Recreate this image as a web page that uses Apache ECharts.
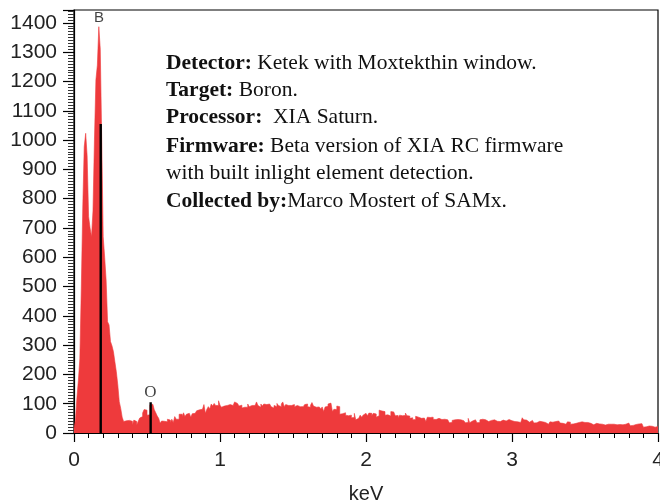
<!DOCTYPE html>
<html>
<head>
<meta charset="utf-8">
<script src="https://cdn.jsdelivr.net/npm/echarts@6/dist/echarts.min.js"></script>
<style>
  html, body { margin: 0; padding: 0; background: #fff; }
  #chart { width: 660px; height: 501px; }
</style>
</head>
<body>
<div id="chart"></div>
<script>
// channel width in keV, counts per channel starting at 0 keV
var binWidth = 0.01;
var counts = [
  15, 44, 120, 180, 253, 495, 768, 977, 1023, 946,
  739, 700, 670, 758, 1000, 1205, 1256, 1387, 1310, 1000,
  670, 600, 522, 380, 369, 312, 298, 278, 243, 209,
  164, 107, 84, 54, 39, 42, 47, 43, 38, 40,
  27, 44, 39, 27, 40, 51, 56, 68, 80, 78,
  61, 62, 96, 98, 93, 79, 69, 58, 50, 33,
  41, 40, 44, 38, 47, 44, 36, 47, 36, 56,
  47, 47, 64, 64, 56, 69, 56, 64, 67, 66,
  54, 66, 67, 72, 76, 79, 74, 81, 82, 97,
  67, 81, 90, 82, 99, 92, 101, 94, 94, 110,
  95, 88, 92, 94, 94, 90, 97, 92, 94, 97,
  106, 101, 95, 92, 95, 85, 88, 88, 88, 99,
  90, 94, 90, 94, 90, 106, 94, 88, 99, 92,
  99, 97, 94, 99, 94, 90, 85, 94, 90, 101,
  94, 90, 99, 106, 90, 97, 94, 99, 94, 90,
  97, 90, 94, 88, 90, 85, 90, 85, 97, 99,
  90, 88, 95, 104, 92, 88, 82, 89, 90, 82,
  89, 73, 89, 91, 99, 102, 97, 73, 81, 80,
  92, 90, 64, 66, 63, 69, 61, 59, 58, 61,
  52, 53, 67, 45, 50, 51, 61, 54, 61, 67,
  66, 59, 68, 67, 59, 67, 65, 54, 59, 78,
  75, 74, 73, 61, 62, 59, 58, 73, 72, 68,
  59, 60, 52, 61, 59, 58, 60, 68, 59, 58,
  50, 52, 45, 46, 57, 54, 53, 50, 52, 51,
  45, 39, 54, 53, 50, 54, 47, 46, 41, 50,
  47, 46, 45, 47, 44, 45, 41, 35, 36, 43,
  45, 47, 46, 41, 45, 41, 42, 39, 35, 36,
  50, 35, 41, 42, 45, 41, 35, 36, 45, 47,
  46, 45, 43, 39, 40, 43, 42, 45, 44, 40,
  41, 39, 45, 44, 40, 41, 47, 46, 43, 42,
  43, 39, 37, 38, 38, 36, 35, 52, 45, 44,
  38, 37, 39, 43, 42, 34, 35, 41, 40, 41,
  38, 37, 36, 35, 30, 31, 38, 37, 38, 39,
  38, 41, 40, 34, 33, 34, 30, 31, 38, 37,
  30, 31, 32, 33, 32, 36, 35, 38, 37, 36,
  35, 36, 34, 33, 27, 28, 34, 33, 32, 31,
  32, 30, 29, 27, 28, 30, 31, 30, 29, 30,
  27, 28, 30, 29, 27, 28, 27, 30, 31, 34,
  33, 25, 26, 30, 29, 30, 31, 30, 32, 31,
  20, 21, 25, 24, 25, 23, 22, 20, 21, 22
];

// element markers
var elementNames = ['B', 'O'];
var elementEnergy = [0.183, 0.525];
var elementLineTop = [1055, 105];
var elementLabelPos = [[0.171, 1417], [0.524, 137]];
var elementLabelFont = ['Liberation Sans', 'Liberation Serif'];

var infoLines = [
  ['Detector:', ' Ketek with Moxtekthin window.'],
  ['Target:', ' Boron.'],
  ['Processor:', '  XIA Saturn.'],
  ['Firmware:', ' Beta version of XIA RC firmware'],
  ['', 'with built inlight element detection.'],
  ['Collected by:', 'Marco Mostert of SAMx.']
];
var infoLineY = [63, 90, 117, 146, 173, 201];

var spectrum = counts.map(function (v, i) { return [i * binWidth, v]; });
spectrum.push([counts.length * binWidth, counts[counts.length - 1]]);

var redColor = '#ee3a3c';
var axisFont = 'Liberation Sans';

var series = [{
  type: 'line',
  step: 'end',
  data: spectrum,
  showSymbol: false,
  symbol: 'none',
  lineStyle: { color: redColor, width: 0.6 },
  areaStyle: { color: redColor, opacity: 1 },
  animation: false,
  z: 2
}];

elementNames.forEach(function (name, i) {
  series.push({
    type: 'line',
    data: [[elementEnergy[i], 0], [elementEnergy[i], elementLineTop[i]]],
    showSymbol: false,
    symbol: 'none',
    lineStyle: { color: '#000', width: 2.4 },
    animation: false,
    z: 3
  });
  series.push({
    type: 'scatter',
    data: [elementLabelPos[i]],
    symbolSize: 1,
    itemStyle: { color: 'rgba(0,0,0,0)' },
    label: {
      show: true,
      position: 'inside',
      formatter: name,
      color: '#111',
      fontSize: i === 0 ? 15 : 17,
      fontFamily: elementLabelFont[i]
    },
    animation: false,
    z: 4
  });
});

var graphics = infoLines.map(function (line, i) {
  return {
    type: 'text',
    left: 166,
    top: infoLineY[i] - 11,
    style: {
      text: (line[0] ? '{b|' + line[0] + '}' : '') + '{n|' + line[1] + '}',
      rich: {
        b: { fontFamily: 'Liberation Serif', fontWeight: 'bold', fontSize: 21.5, fill: '#111' },
        n: { fontFamily: 'Liberation Serif', fontSize: 21.5, fill: '#111' }
      }
    },
    z: 10
  };
});

var plainNumber = function (v) { return String(v); };

var option = {
  backgroundColor: '#fff',
  grid: {
    left: 74, right: 2, top: 10, bottom: 68,
    outerBoundsMode: 'none',
    containLabel: false,
    show: true, borderColor: '#000', borderWidth: 1.2
  },
  xAxis: {
    type: 'value',
    min: 0, max: 4, interval: 1,
    name: 'keV',
    nameLocation: 'middle',
    nameGap: 51,
    nameTextStyle: { fontSize: 20, fontFamily: axisFont, color: '#222' },
    axisLine: { show: true, lineStyle: { color: '#000', width: 1.2 } },
    axisTick: { show: true, inside: false, length: 9, lineStyle: { color: '#000', width: 1.2 } },
    minorTick: { show: true, splitNumber: 10, length: 5, lineStyle: { color: '#000', width: 1 } },
    axisLabel: { fontSize: 21, fontFamily: axisFont, color: '#222', margin: 17, formatter: plainNumber },
    splitLine: { show: false }
  },
  yAxis: {
    type: 'value',
    min: 0, max: 1444, interval: 100,
    axisLine: { show: true, lineStyle: { color: '#000', width: 1.2 } },
    axisTick: { show: true, inside: false, length: 11, lineStyle: { color: '#000', width: 1.2 } },
    minorTick: { show: true, splitNumber: 10, length: 6, lineStyle: { color: '#333', width: 1 } },
    axisLabel: { fontSize: 21, fontFamily: axisFont, color: '#222', margin: 17, showMaxLabel: false, formatter: plainNumber },
    splitLine: { show: false }
  },
  series: series,
  graphic: graphics
};

var chart = echarts.init(document.getElementById('chart'), null, { renderer: 'canvas' });
chart.setOption(option);
</script>
</body>
</html>
